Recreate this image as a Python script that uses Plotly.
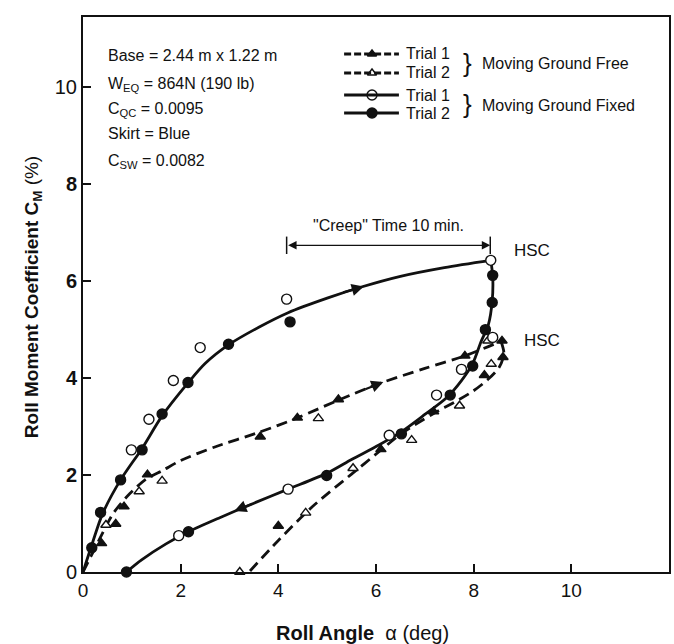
import plotly.graph_objects as go

# ---------------- data ----------------
X_RANGE = [0, 12]
Y_RANGE = [0, 11.45]
x_ticks = [0, 2, 4, 6, 8, 10]
x_ticktext = ["0", "2", "4", "6", "8", "10"]
y_ticks = [0, 2, 4, 6, 8, 10]
y_ticktext = ["0", "<b>2</b>", "<b>4</b>", "<b>6</b>", "<b>8</b>", "10"]

# Moving Ground Fixed - Trial 1 (open circles)
fixed1_x = [0.99, 1.35, 1.85, 2.40, 4.17, 8.35, 8.39, 7.75, 7.24, 6.27, 4.20, 1.96]
fixed1_y = [2.52, 3.15, 3.95, 4.63, 5.63, 6.43, 4.84, 4.18, 3.65, 2.82, 1.71, 0.75]
# Moving Ground Fixed - Trial 2 (filled circles)
fixed2_x = [0.18, 0.36, 0.77, 1.21, 1.62, 2.15, 2.98, 4.24, 8.39, 8.38, 8.24, 7.98, 7.52, 6.52, 4.99, 2.16, 0.89]
fixed2_y = [0.50, 1.23, 1.90, 2.52, 3.26, 3.91, 4.70, 5.16, 6.12, 5.56, 5.00, 4.25, 3.65, 2.85, 1.99, 0.83, 0.00]
# Moving Ground Free - Trial 1 (filled triangles)
free1_x = [0.38, 0.67, 0.84, 1.32, 3.63, 4.39, 5.23, 7.82, 8.58, 8.60, 8.22, 7.18, 6.10, 4.00]
free1_y = [0.59, 0.99, 1.35, 2.01, 2.79, 3.18, 3.56, 4.46, 4.77, 4.43, 4.06, 3.31, 2.53, 0.95]
# Moving Ground Free - Trial 2 (open triangles)
free2_x = [0.47, 1.15, 1.62, 4.82, 8.29, 8.36, 7.71, 6.73, 5.53, 4.56, 3.21]
free2_y = [0.97, 1.66, 1.88, 3.17, 4.77, 4.29, 3.43, 2.72, 2.14, 1.22, 0.00]

# Faired curves
fixed_load_x = [0, 0.2, 0.4, 0.77, 1.21, 1.62, 2.15, 2.5, 3.0, 3.6, 4.2, 5.0, 5.7, 6.5, 7.4, 8.35]
fixed_load_y = [0, 0.62, 1.2, 1.9, 2.55, 3.22, 3.9, 4.3, 4.7, 5.05, 5.35, 5.65, 5.88, 6.1, 6.28, 6.43]
fixed_unload_x = [8.35, 8.39, 8.38, 8.3, 8.15, 7.98, 7.75, 7.45, 7.0, 6.5, 6.06, 5.5, 5.0, 4.2, 3.5, 2.8, 2.16, 1.7, 1.2, 0.89]
fixed_unload_y = [6.43, 6.1, 5.6, 5.1, 4.75, 4.3, 3.95, 3.6, 3.25, 2.88, 2.62, 2.32, 2.04, 1.71, 1.42, 1.12, 0.83, 0.58, 0.25, 0.0]
free_load_x = [0, 0.25, 0.62, 0.96, 1.3, 1.64, 2.0, 2.7, 3.6, 4.39, 5.24, 6.1, 7.0, 7.82, 8.3, 8.56]
free_load_y = [0, 0.5, 1.21, 1.62, 1.92, 2.10, 2.3, 2.58, 2.88, 3.18, 3.55, 3.9, 4.2, 4.46, 4.65, 4.76]
free_unload_x = [8.56, 8.62, 8.52, 8.3, 7.97, 7.6, 7.18, 6.54, 6.06, 5.5, 4.7, 4.0, 3.4]
free_unload_y = [4.76, 4.5, 4.22, 3.98, 3.72, 3.5, 3.27, 2.87, 2.48, 2.02, 1.35, 0.65, 0.0]

# creep interval
creep_x = [4.17, 8.34]
creep_y = 6.74

FONT = "Liberation Sans, Arial, Helvetica, sans-serif"
BLACK = "#111111"

# ---------------- figure ----------------
W, H = 674, 644
L, R, T, B = 83, 3, 17, 72
fig = go.Figure()

def curve(x, y, dash):
    fig.add_trace(go.Scatter(x=x, y=y, mode="lines", showlegend=False, hoverinfo="skip",
                             line=dict(color=BLACK, width=2.8, dash=dash, shape="spline", smoothing=0.8)))

curve(fixed_load_x, fixed_load_y, "solid")
curve(fixed_unload_x, fixed_unload_y, "solid")
curve(free_load_x, free_load_y, "11px,6px")
curve(free_unload_x, free_unload_y, "11px,6px")

def pts(x, y, symbol, fill, size):
    fig.add_trace(go.Scatter(x=x, y=y, mode="markers", showlegend=False, cliponaxis=False,
                             marker=dict(symbol=symbol, size=size, color=fill,
                                         line=dict(color=BLACK, width=1.4))))

pts(free2_x, free2_y, "triangle-up", "white", 9)
pts(free1_x, free1_y, "triangle-up", BLACK, 9)
pts(fixed1_x, fixed1_y, "circle", "white", 10)
pts(fixed2_x, fixed2_y, "circle", BLACK, 10)

# ---------------- manual legend (paper coords) ----------------
pw, ph = W - L - R, H - T - B
def px(xp):  # pixel -> paper x
    return (xp - L) / pw
def py(yp):  # pixel -> paper y
    return (H - B - yp) / ph
def to_dx(xp):
    return X_RANGE[0] + (xp - L) / pw * (X_RANGE[1] - X_RANGE[0])
def to_dy(yp):
    return Y_RANGE[0] + (H - B - yp) / ph * (Y_RANGE[1] - Y_RANGE[0])

legend_rows = [54, 73, 95, 113]
legend_labels = ["Trial 1", "Trial 2", "Trial 1", "Trial 2"]
legend_dash = ["dash", "dash", "solid", "solid"]
legend_sym = ["triangle-up", "triangle-up", "circle", "circle"]
legend_fill = [BLACK, "white", "white", BLACK]
shapes = []
for yrow, lab, dsh, sym, fil in zip(legend_rows, legend_labels, legend_dash, legend_sym, legend_fill):
    shapes.append(dict(type="line", xref="paper", yref="paper", x0=px(345), x1=px(400),
                       y0=py(yrow), y1=py(yrow),
                       line=dict(color=BLACK, width=2.8, dash="7px,3px" if dsh == "dash" else "solid")))
    fig.add_trace(go.Scatter(x=[to_dx(373)], y=[to_dy(yrow)], mode="markers", showlegend=False,
                             cliponaxis=False, hoverinfo="skip",
                             marker=dict(symbol=sym, size=8 if sym.startswith("tri") else 10,
                                         color=fil, line=dict(color=BLACK, width=1.4))))

annotations = []
def txt(x, y, s, size=15, xanchor="left", yanchor="middle", ref="paper", **kw):
    xr, yr = ("paper", "paper") if ref == "paper" else ("x", "y")
    annotations.append(dict(x=x, y=y, xref=xr, yref=yr, text=s, showarrow=False,
                            xanchor=xanchor, yanchor=yanchor,
                            font=dict(family=FONT, size=size, color=BLACK), **kw))

for yrow, lab in zip(legend_rows, legend_labels):
    txt(px(405), py(yrow), lab, size=16)
txt(px(462), py(63), "}", size=26)
txt(px(462), py(104), "}", size=26)
txt(px(481), py(63), "Moving Ground Free", size=16)
txt(px(481), py(105), "Moving Ground Fixed", size=16)

# parameter block
info = ["Base = 2.44 m x 1.22 m", "W<sub>EQ</sub> = 864N (190 lb)", "C<sub>QC</sub> = 0.0095",
        "Skirt = Blue", "C<sub>SW</sub> = 0.0082"]
info_rows = [56, 85, 110, 134, 161]
for s, yrow in zip(info, info_rows):
    txt(px(106), py(yrow), s, size=16)

# creep arrow
annotations.append(dict(x=creep_x[1], y=creep_y, ax=creep_x[0], ay=creep_y, xref="x", yref="y",
                        axref="x", ayref="y", showarrow=True, arrowhead=2, arrowside="end+start",
                        arrowsize=1.3, arrowwidth=1.3, arrowcolor=BLACK, text=""))
for cx in creep_x:
    shapes.append(dict(type="line", xref="x", yref="y", x0=cx, x1=cx, y0=creep_y - 0.18, y1=creep_y + 0.18,
                       line=dict(color=BLACK, width=1.5)))
txt((creep_x[0] + creep_x[1]) / 2, creep_y + 0.4, "\"Creep\" Time 10 min.", size=16,
    xanchor="center", ref="x")
txt(8.78, 6.63, "HSC", size=17, ref="x")
txt(8.98, 4.78, "HSC", size=17, ref="x")

# direction arrows on curves
for (hx, hy, tx, ty) in [(5.75, 5.89, 5.3, 5.76), (3.1, 1.26, 3.5, 1.42), (6.15, 3.92, 5.75, 3.76)]:
    annotations.append(dict(x=hx, y=hy, ax=tx, ay=ty, xref="x", yref="y", axref="x", ayref="y",
                            showarrow=True, arrowhead=2, arrowsize=1.1, arrowwidth=2.2,
                            arrowcolor=BLACK, text=""))

# axis titles
txt(px(363), py(633), "<b>Roll Angle</b>  α (deg)", size=20, xanchor="center")
txt(px(33), py(297), "<b>Roll Moment Coefficient C<sub>M</sub></b> (%)", size=19,
    xanchor="center", textangle=-90)

axis_common = dict(showgrid=False, zeroline=False, showline=True, linecolor=BLACK, linewidth=2,
                   mirror=True, ticks="inside", ticklen=8, tickwidth=1.5, tickcolor=BLACK)
fig.update_layout(
    width=W, height=H, margin=dict(l=L, r=R, t=T, b=B, pad=0),
    paper_bgcolor="white", plot_bgcolor="white", showlegend=False,
    font=dict(family=FONT, color=BLACK),
    xaxis=dict(range=X_RANGE, tickvals=x_ticks, ticktext=x_ticktext,
               tickfont=dict(size=19, family=FONT, color=BLACK), **axis_common),
    yaxis=dict(range=Y_RANGE, tickvals=y_ticks, ticktext=y_ticktext,
               tickfont=dict(size=20, family=FONT, color=BLACK), **axis_common),
    shapes=shapes, annotations=annotations,
)

fig.write_html("out.html")
